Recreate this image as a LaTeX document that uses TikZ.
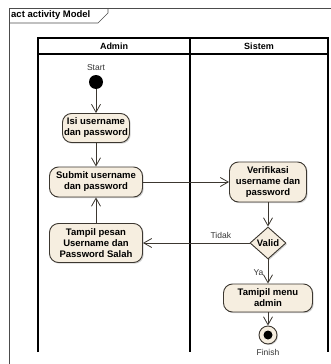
\documentclass[tikz,border=0pt]{standalone}
\usepackage{fontspec}
\setmainfont{Liberation Sans}
\usetikzlibrary{arrows.meta, positioning, shapes.geometric, shadows}
\definecolor{actfill}{RGB}{246,238,224}
\definecolor{actline}{RGB}{60,55,48}

\begin{document}
\begin{tikzpicture}[x=1pt,y=-1pt,
  act/.style={draw=actline,line width=0.9pt,fill=actfill,rounded corners=9pt,
    align=center,inner sep=0.5pt,font=\bfseries\fontsize{9.5}{11}\selectfont,
    drop shadow={shadow xshift=1.2pt,shadow yshift=-1.2pt,fill=black!35}},
  dec/.style={diamond,draw=actline,line width=0.9pt,fill=actfill,inner sep=0pt,
    minimum width=36pt,minimum height=32pt,font=\bfseries\fontsize{9.5}{11}\selectfont,
    drop shadow={shadow xshift=1.2pt,shadow yshift=-1.2pt,fill=black!35}},
  flow/.style={draw=actline,line width=0.8pt,-{Straight Barb[length=8pt,width=9pt]}},
  lane/.style={draw=black,line width=1.2pt},
  lbl/.style={font=\fontsize{8.5}{10}\selectfont,text=black!80}]
\useasboundingbox (0,0) rectangle (331,364);
% frame
\draw[black!70,line width=0.6pt] (9,370) -- (9,8) -- (340,8);
\draw[black!70,line width=0.6pt] (9,23) -- (98,23) -- (108,13) -- (108,8);
\node[anchor=west,font=\bfseries\fontsize{9.5}{11}\selectfont,inner sep=0pt] (title) at (11,15.5) {act activity Model};
% swimlanes
\draw[lane] (38,352) -- (38,38) -- (328,38) -- (328,352);
\draw[lane] (190,38) -- (190,352);
\draw[lane] (38,54) -- (328,54);
\node[font=\bfseries\fontsize{9}{10}\selectfont] (admin) at (114,46) {Admin};
\node[font=\bfseries\fontsize{9}{10}\selectfont] (sistem) at (259,46) {Sistem};
% nodes
\node[circle,fill=black,minimum size=14pt,inner sep=0pt,
  label={[lbl,label distance=1pt]above:Start}] (start) at (96,82) {};
\node[act,minimum width=67pt,minimum height=29pt] (isi) at (96,128) {Isi username\\dan password};
\node[act,minimum width=93pt,minimum height=30pt] (submit) at (96,182) {Submit username\\dan password};
\node[act,minimum width=93pt,minimum height=39pt] (pesan) at (96,243) {Tampil pesan\\Username dan\\Password Salah};
\node[act,minimum width=77pt,minimum height=40pt] (verif) at (268,182) {Verifikasi\\username dan\\password};
\node[dec] (valid) at (268,243) {\makebox[0pt]{Valid}};
\node[act,minimum width=89pt,minimum height=28pt] (menu) at (268,298) {Tamipil menu\\admin};
\node[circle,draw=actline,line width=0.9pt,fill=actfill,minimum size=18pt,inner sep=0pt,
  drop shadow={shadow xshift=1pt,shadow yshift=-1pt,fill=black!35},
  label={[lbl,label distance=1pt]below:Finish}] (finish) at (268,335) {};
\node[circle,fill=black,minimum size=9pt,inner sep=0pt] (finishdot) at (finish) {};
% flows
\draw[flow] (start) -- (isi);
\draw[flow] (isi) -- (submit);
\draw[flow] (pesan) -- (submit);
\draw[flow] (submit) -- (verif);
\draw[flow] (verif) -- (valid);
\draw[flow] (valid) -- node[lbl,pos=0.27,above=1pt] {Tidak} (pesan);
\draw[flow] (valid) -- node[lbl,pos=0.55,left=1pt] {Ya} (menu);
\draw[flow] (menu) -- (finish);
\end{tikzpicture}
\end{document}
